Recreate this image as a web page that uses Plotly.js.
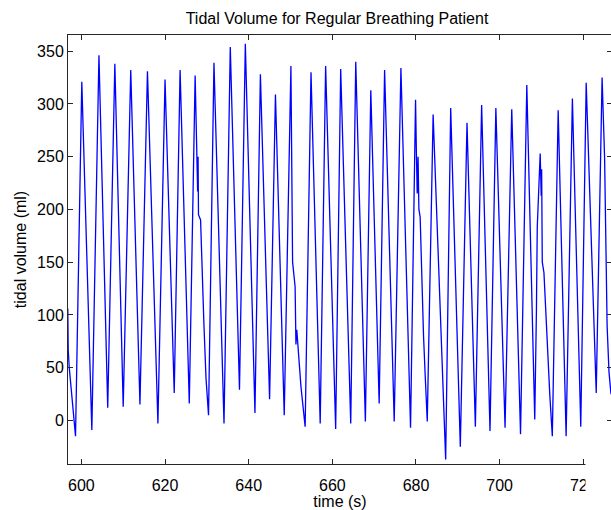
<!DOCTYPE html>
<html>
<head>
<meta charset="utf-8">
<script src="https://cdn.plot.ly/plotly-3.0.1.min.js"></script>
<style>
html, body { margin: 0; padding: 0; overflow: hidden; background: #fff; }
#chart { width: 613px; height: 510px; }
</style>
</head>
<body>
<div id="chart"></div>
<script>
// Time (s) of each read point of the trace (extrema and visible shoulders)
const time_s = [
  596.75, 596.85, 597.1, 597.7, 598.1, 598.6,
  600.1, 602.5, 604.2, 606.3, 608.0, 610.0, 611.8, 614.0,
  615.8, 618.3, 620.0, 622.2, 623.6, 625.8,
  627.2, 627.5, 627.8, 627.9, 628.0, 628.5, 628.9, 629.3, 629.8, 630.4,
  631.7, 634.1, 635.6, 637.8, 639.2, 641.5, 642.8, 645.0, 646.4, 648.5,
  650.1, 650.5, 651.1, 651.3, 651.5, 651.8, 652.5, 653.5,
  654.9, 657.1, 658.4, 660.8, 662.0, 664.4, 665.6, 667.9, 669.2, 671.2,
  672.5, 674.8, 676.4, 678.7,
  679.9, 680.1, 680.3, 680.5, 680.7, 681.0, 681.4, 681.8, 682.2, 682.7,
  684.1, 687.1, 688.3, 690.6, 692.2, 694.2, 695.7, 697.7, 699.1, 701.3,
  702.9, 705.0, 706.5, 708.4,
  708.8, 709.0, 709.7, 709.95, 710.05, 710.2, 710.6, 711.0, 711.6, 712.0, 712.6,
  714.0, 715.9, 717.4, 719.4, 720.7, 723.1,
  724.5, 725.1, 725.4, 725.7, 726.15, 726.6, 727.2
];
// Tidal volume (ml) at those points
const tidal_ml = [
  106, 67, 50, 24, 2, -15,
  321, -9, 346, 12, 338, 13, 332, 15,
  331, -3, 323, 26, 332, 16,
  327, 252, 217, 250, 195, 190, 135, 91, 40, 5,
  339, -3, 354, 29, 357, 7, 328, 20, 309, 5,
  336, 150, 127, 72, 86, 70, 32, -6,
  330, -3, 336, -8, 333, -3, 340, -1, 313, 16,
  332, -1, 334, -7,
  304, 254, 215, 250, 200, 193, 122, 81, 43, -1,
  290, -37, 296, -25, 282, -6, 299, -10, 296, -7,
  295, -13, 318, 1,
  104, 183, 253, 213, 238, 150, 140, 104, 46, 24, -15,
  294, -15, 305, -6, 320, 26,
  325, 249, 160, 90, 46, 26, 20
];
const xTicks = [600, 620, 640, 660, 680, 700, 720];
const yTicks = [0, 50, 100, 150, 200, 250, 300, 350];

const FONT = 'Liberation Sans, Arial, Helvetica, sans-serif';
const AX = '#262626';

const trace = {
  x: time_s, y: tidal_ml, type: 'scatter', mode: 'lines',
  line: { color: '#0000ff', width: 1.3 },
  hoverinfo: 'skip'
};

const axisCommon = {
  showline: true, linecolor: AX, linewidth: 1, mirror: 'ticks',
  ticks: 'inside', ticklen: 5, tickwidth: 1, tickcolor: AX,
  showgrid: false, zeroline: false,
  tickfont: { family: FONT, size: 16, color: '#000' }
};

const layout = {
  width: 613, height: 510,
  margin: { l: 68, r: 1, t: 35, b: 46 },
  paper_bgcolor: '#fff', plot_bgcolor: '#fff',
  showlegend: false,
  font: { family: FONT, size: 16, color: '#000' },
  title: {
    text: 'Tidal Volume for Regular Breathing Patient',
    font: { family: FONT, size: 16, color: '#000' },
    xref: 'paper', x: 0.4945, xanchor: 'center',
    yref: 'container', y: 1 - 18 / 510, yanchor: 'middle'
  },
  xaxis: Object.assign({}, axisCommon, {
    range: [596.8, 726.87], tickvals: xTicks, ticklabelstandoff: 7,
    title: { text: 'time (s)', font: { family: FONT, size: 16, color: '#000' }, standoff: 3 }
  }),
  yaxis: Object.assign({}, axisCommon, {
    range: [-41.3, 365.3], tickvals: yTicks,
    title: { text: 'tidal volume (ml)', font: { family: FONT, size: 16, color: '#000' }, standoff: 6 }
  }),
  shapes: [{
    type: 'rect', xref: 'paper', yref: 'paper', layer: 'above',
    x0: (585.5 - 68) / 544, x1: 1.05, y0: (464 - 445) / 429, y1: -0.2,
    fillcolor: '#fff', line: { width: 0 }
  }]
};

Plotly.newPlot('chart', [trace], layout, { staticPlot: true, displayModeBar: false });
</script>
</body>
</html>
